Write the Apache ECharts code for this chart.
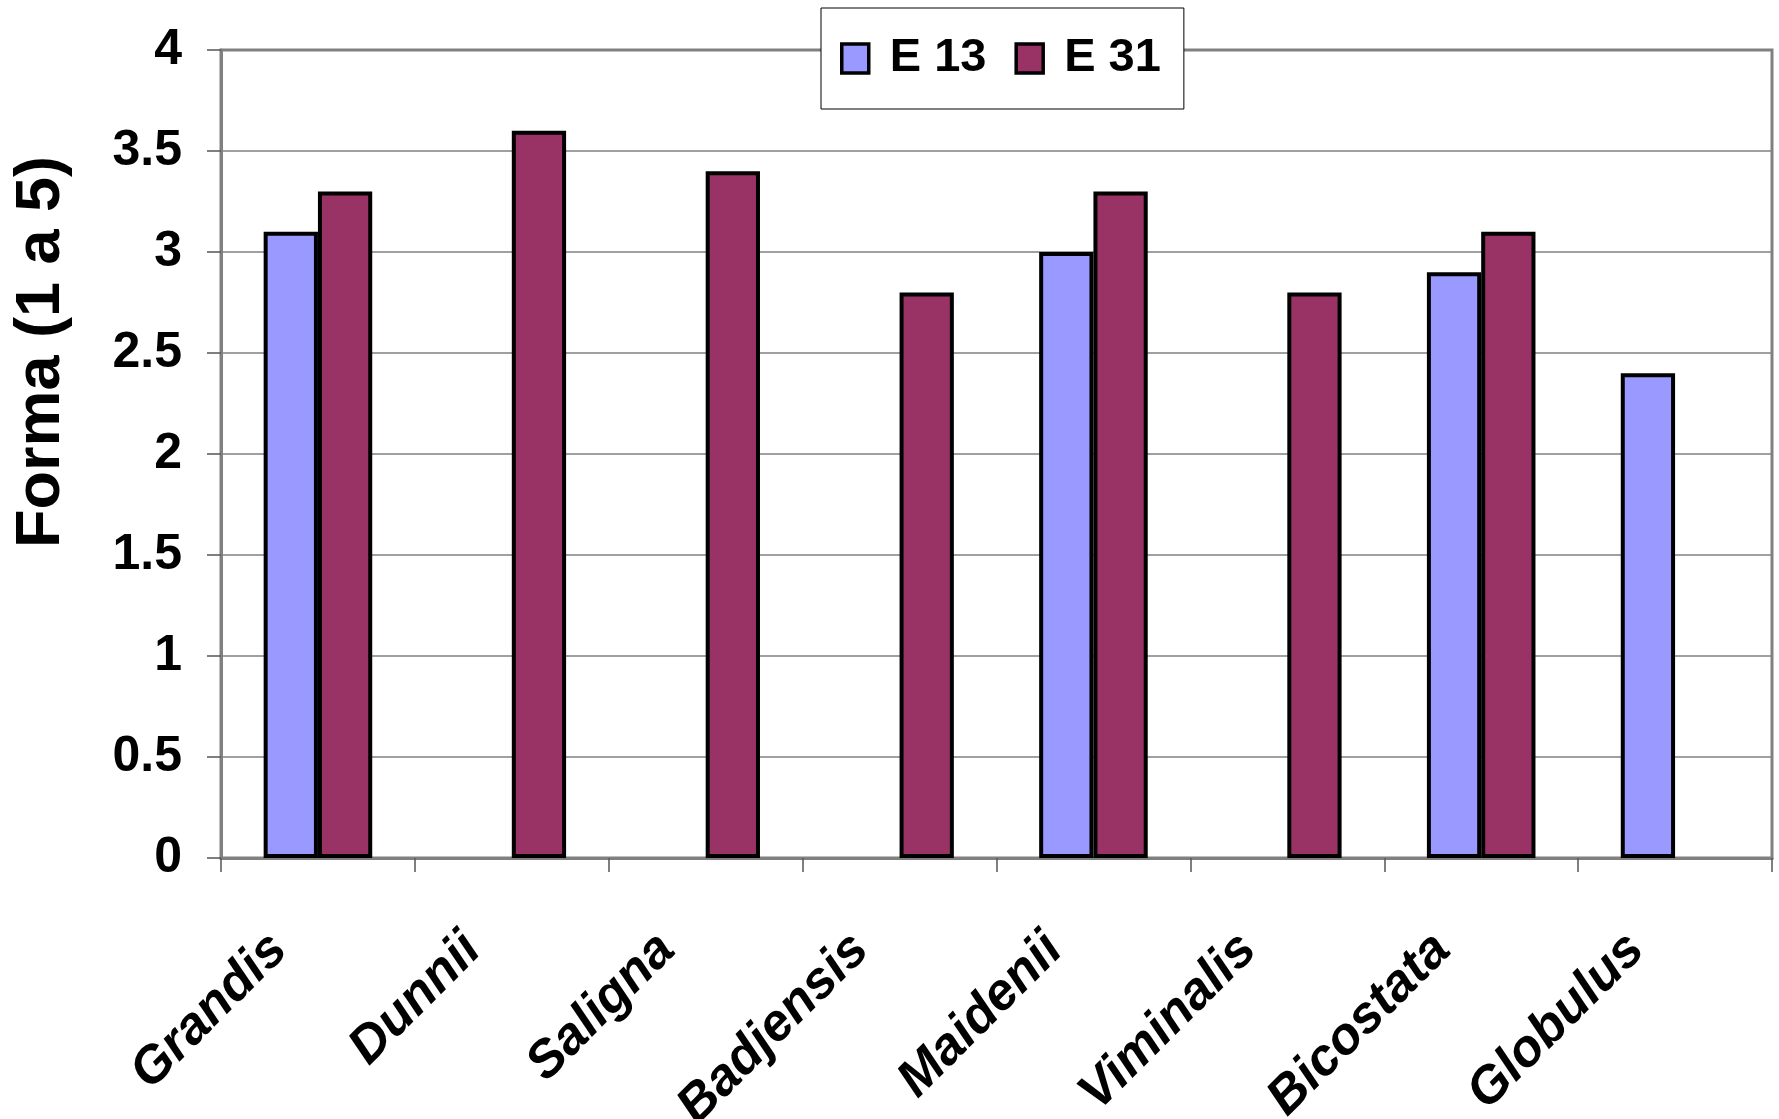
<!DOCTYPE html>
<html>
<head>
<meta charset="utf-8">
<script src="https://cdn.jsdelivr.net/npm/echarts@6/dist/echarts.min.js"></script>
<style>
html,body{margin:0;padding:0;background:#fff;}
#chart{width:1779px;height:1119px;}
</style>
</head>
<body>
<div id="chart"></div>
<script>
const categories = ['Grandis', 'Dunnii', 'Saligna', 'Badjensis', 'Maidenii', 'Viminalis', 'Bicostata', 'Globulus'];
const seriesNames = ['E 13', 'E 31'];
const e13Values = [3.1, null, null, null, 3.0, null, 2.9, 2.4];
const e31Values = [3.3, 3.6, 3.4, 2.8, 3.3, 2.8, 3.1, null];
const yTitle = 'Forma (1 a 5)';

const FONT = "'Liberation Sans', Arial, sans-serif";
const chart = echarts.init(document.getElementById('chart'), null, {renderer: 'canvas'});

chart.setOption({
  backgroundColor: '#ffffff',
  animation: false,
  grid: {
    left: 221, right: 7, top: 50, bottom: 261,
    containLabel: false,
    outerBoundsMode: 'none',
    show: true, borderColor: '#808080', borderWidth: 3, backgroundColor: 'transparent'
  },
  legend: {
    left: 821, top: 8,
    orient: 'horizontal',
    icon: 'rect',
    itemWidth: 27, itemHeight: 29, itemGap: 28,
    padding: [27, 23, 27, 19],
    backgroundColor: '#ffffff',
    borderColor: '#000000', borderWidth: 1,
    itemStyle: {borderColor: '#000000', borderWidth: 3.5},
    textStyle: {fontFamily: FONT, fontSize: 47, fontWeight: 'bold', color: '#000', padding: [0, 0, 0, 16], lineHeight: 46},
    data: seriesNames
  },
  xAxis: {
    type: 'category',
    data: categories,
    boundaryGap: true,
    axisLine: {show: true, lineStyle: {color: '#808080', width: 3}},
    axisTick: {show: true, length: 14, alignWithLabel: false, lineStyle: {color: '#555', width: 1.5}},
    axisLabel: {
      interval: 0, rotate: 45, margin: 45,
      padding: [0, 55, 0, 0],
      fontFamily: FONT, fontSize: 52, fontWeight: 'bold', fontStyle: 'italic', color: '#000'
    },
    splitLine: {show: false}
  },
  yAxis: {
    type: 'value',
    min: 0, max: 4, interval: 0.5,
    axisLine: {show: true, lineStyle: {color: '#808080', width: 3}},
    axisTick: {show: true, length: 14, lineStyle: {color: '#555', width: 1.5}},
    axisLabel: {margin: 39, fontFamily: FONT, fontSize: 50, fontWeight: 'bold', color: '#000'},
    splitLine: {show: true, lineStyle: {color: '#808080', width: 1.5}}
  },
  graphic: [{
    type: 'text',
    x: 42, y: 352,
    rotation: Math.PI / 2,
    style: {
      text: yTitle,
      fontFamily: FONT, fontSize: 63, fontWeight: 'bold', fill: '#000',
      align: 'center', verticalAlign: 'middle'
    }
  }],
  series: [
    {
      name: seriesNames[0], type: 'bar', data: e13Values,
      barGap: '0%', barCategoryGap: '44%',
      itemStyle: {color: '#9999FF', borderColor: '#000000', borderWidth: 4}
    },
    {
      name: seriesNames[1], type: 'bar', data: e31Values,
      barGap: '0%', barCategoryGap: '44%',
      itemStyle: {color: '#993366', borderColor: '#000000', borderWidth: 4}
    }
  ]
});
</script>
</body>
</html>
